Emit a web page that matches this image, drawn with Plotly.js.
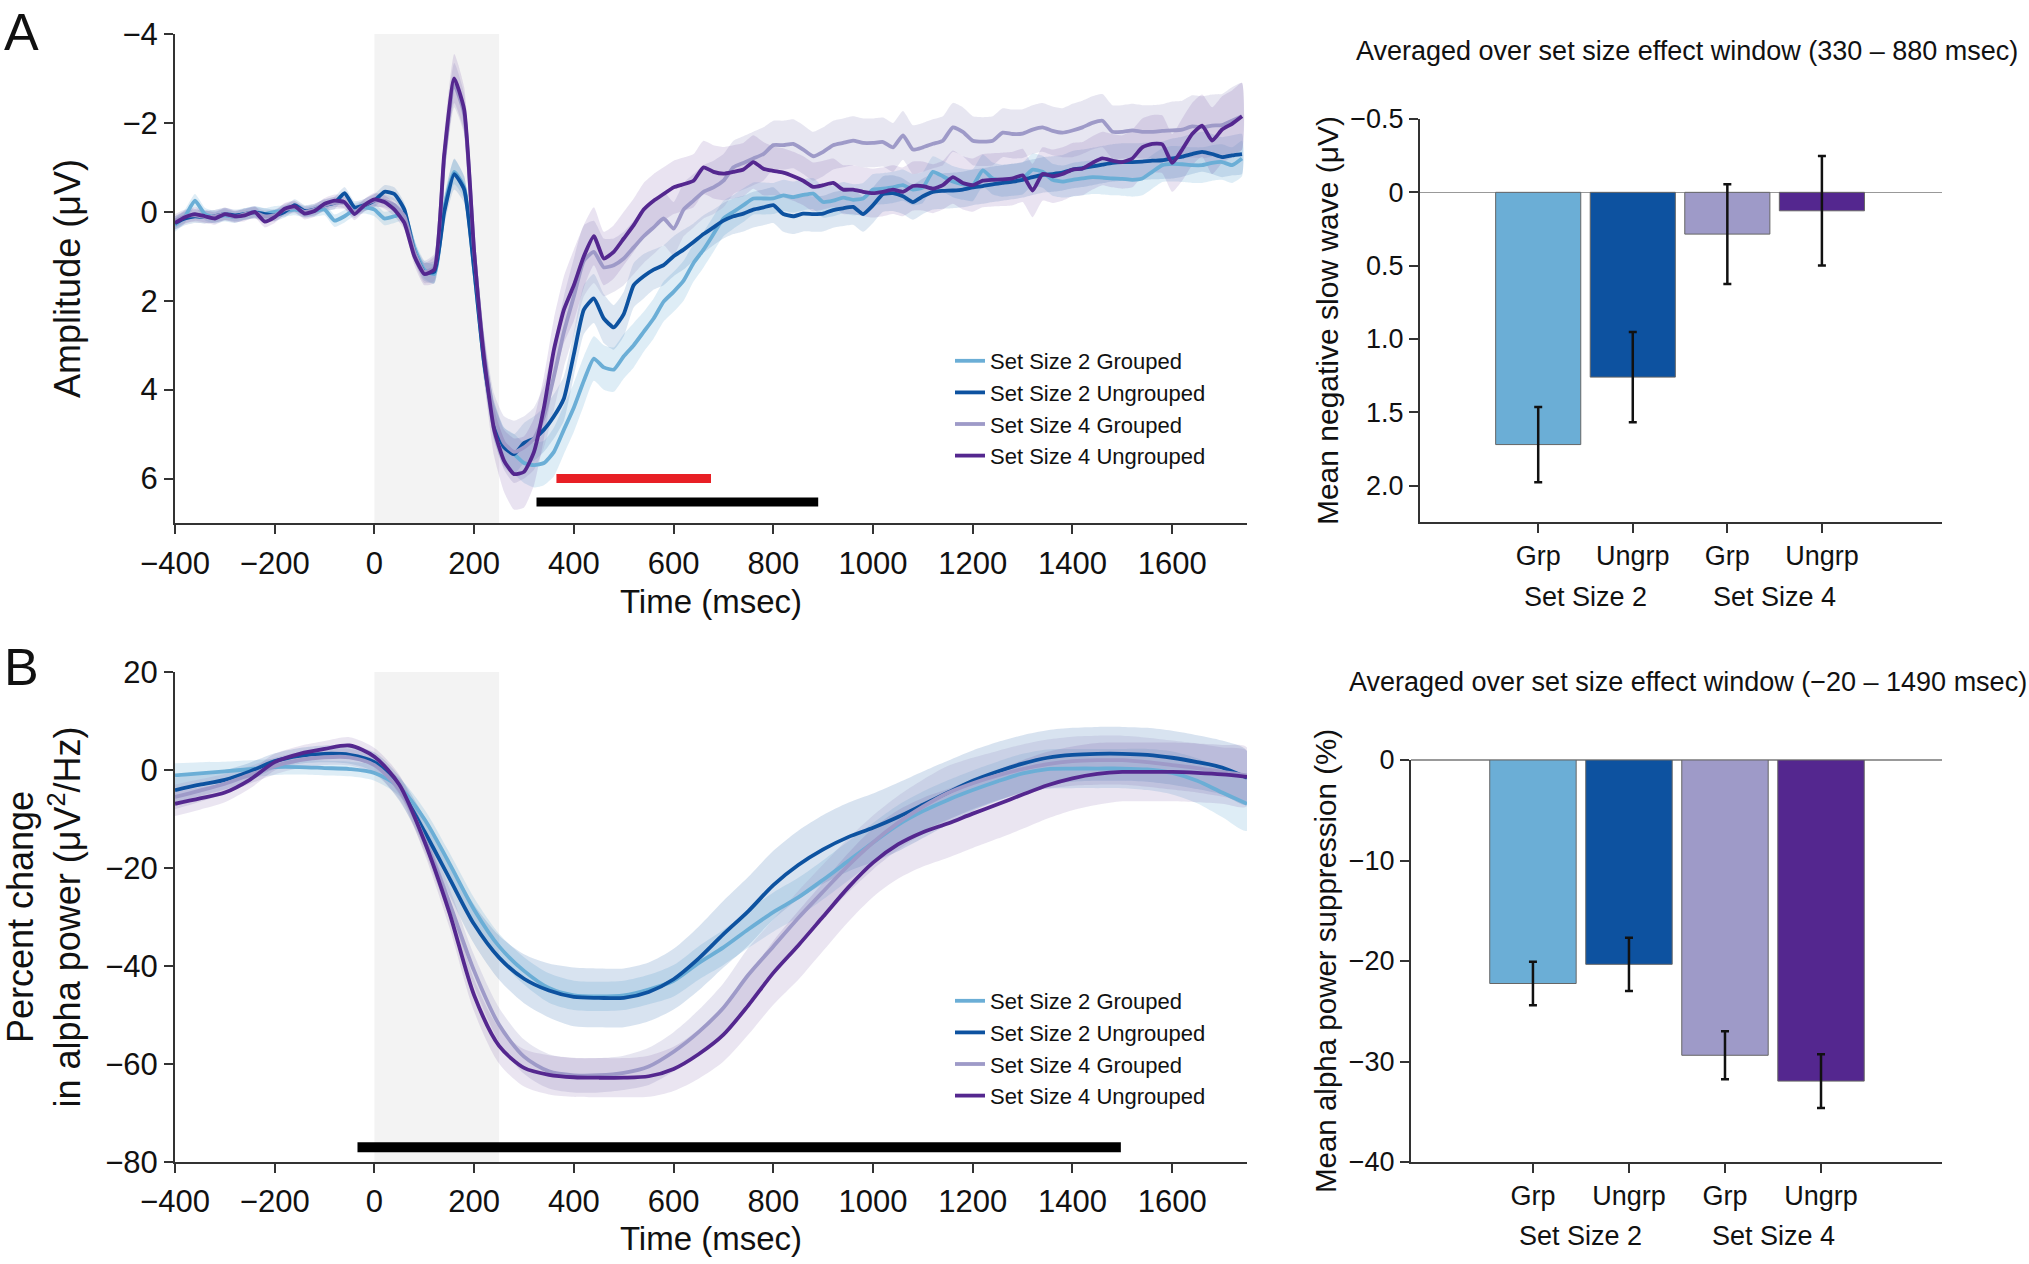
<!DOCTYPE html>
<html>
<head>
<meta charset="utf-8">
<script src="https://cdn.plot.ly/plotly-3.0.1.min.js"></script>
<style>html,body{margin:0;padding:0;background:#fff;}#chart{width:2029px;height:1264px;}</style>
</head>
<body>
<div id="chart"></div>
<script>
// ---------------- DATA ----------------
const seriesNames = ['Set Size 2 Grouped', 'Set Size 2 Ungrouped', 'Set Size 4 Grouped', 'Set Size 4 Ungrouped'];

// Panel A: ERP amplitude (µV), sampled every 20 ms
const timeA = [-400,-380,-360,-340,-320,-300,-280,-260,-240,-220,
  -200,-180,-160,-140,-120,-100,-80,-60,-40,-20,
  0,20,40,60,80,100,120,140,160,180,
  200,220,240,260,280,300,320,340,360,380,
  400,420,440,460,480,500,520,540,560,580,
  600,620,640,660,680,700,720,740,760,780,
  800,820,840,860,880,900,920,940,960,980,
  1000,1020,1040,1060,1080,1100,1120,1140,1160,1180,
  1200,1220,1240,1260,1280,1300,1320,1340,1360,1380,
  1400,1420,1440,1460,1480,1500,1520,1540,1560,1580,
  1600,1620,1640,1660,1680,1700,1720,1740];

const ampSS2G = [0.3,0.1,-0.25,0.05,0.12,0.08,0.12,0.05,0.0,0.05,
  0.0,-0.02,-0.05,0.0,-0.02,-0.05,0.2,0.1,-0.05,-0.1,
  -0.05,0.15,0.1,0.05,0.8,1.3,1.4,-0.1,-0.9,-0.55,
  1.3,3.4,4.7,5.25,5.45,5.65,5.7,5.65,5.4,4.9,
  4.4,3.8,3.3,3.5,3.55,3.25,3.0,2.7,2.4,2.02,
  1.8,1.55,1.15,0.85,0.5,0.15,0.0,-0.15,-0.3,-0.3,
  -0.3,-0.37,-0.33,-0.38,-0.41,-0.22,-0.25,-0.32,-0.27,-0.3,
  -0.5,-0.52,-0.55,-0.6,-0.5,-0.55,-0.9,-0.8,-0.68,-0.62,
  -0.6,-0.93,-0.75,-0.7,-0.72,-0.75,-0.95,-0.9,-0.72,-0.68,
  -0.72,-0.75,-0.78,-0.77,-0.75,-0.74,-0.72,-0.75,-0.9,-1.05,
  -1.08,-1.07,-1.05,-1.05,-1.1,-1.12,-1.05,-1.2];
const ampSS2U = [0.25,0.15,0.1,0.12,0.1,0.05,0.08,0.05,0.02,0.05,
  0.08,0.0,-0.15,-0.02,-0.05,-0.15,-0.2,-0.42,-0.1,-0.15,
  -0.25,-0.45,-0.4,-0.05,0.9,1.35,1.35,0.0,-0.85,-0.5,
  1.3,3.4,4.7,5.3,5.45,5.2,5.1,4.9,4.6,4.2,
  3.2,2.2,1.95,2.4,2.6,2.3,1.65,1.45,1.3,1.2,
  1.0,0.85,0.68,0.5,0.35,0.2,0.1,0.04,-0.05,-0.1,
  -0.15,0.05,0.1,0.04,0.05,0.04,-0.04,-0.08,-0.11,0.05,
  -0.15,-0.4,-0.42,-0.35,-0.22,-0.35,-0.45,-0.47,-0.48,-0.5,
  -0.55,-0.58,-0.62,-0.65,-0.68,-0.72,-0.78,-0.83,-0.85,-0.88,
  -0.95,-0.98,-1.02,-1.06,-1.1,-1.12,-1.12,-1.13,-1.15,-1.16,
  -1.2,-1.24,-1.3,-1.35,-1.3,-1.23,-1.27,-1.3];
const ampSS4G = [0.2,0.1,0.08,0.12,0.1,0.05,0.12,0.05,0.02,0.1,
  0.08,-0.05,-0.1,0.0,-0.05,-0.15,-0.2,-0.2,0.0,-0.15,
  -0.25,-0.25,-0.15,0.1,0.9,1.35,1.25,-1.2,-2.85,-2.2,
  0.9,3.2,4.6,5.2,5.4,5.3,5.1,4.6,3.7,2.7,
  1.9,1.1,0.9,1.25,1.2,1.05,0.8,0.55,0.35,0.15,
  0.38,-0.05,-0.25,-0.45,-0.55,-0.7,-1.0,-1.1,-1.2,-1.3,
  -1.5,-1.5,-1.53,-1.4,-1.25,-1.35,-1.5,-1.55,-1.6,-1.55,
  -1.55,-1.57,-1.45,-1.72,-1.4,-1.45,-1.53,-1.6,-1.9,-1.8,
  -1.6,-1.58,-1.6,-1.78,-1.75,-1.76,-1.85,-1.9,-1.82,-1.78,
  -1.83,-1.9,-2.0,-2.05,-1.8,-1.8,-1.83,-1.8,-1.8,-1.82,
  -1.83,-1.85,-1.92,-1.9,-1.94,-1.95,-2.05,-2.15];
const ampSS4U = [0.25,0.12,0.05,0.1,0.15,0.05,0.1,0.08,0.0,0.22,
  0.12,-0.07,-0.12,0.04,-0.02,-0.18,-0.25,-0.22,0.05,-0.15,
  -0.28,-0.22,-0.05,0.25,1.0,1.4,1.3,-1.3,-3.0,-2.3,
  0.9,3.3,4.9,5.6,5.9,5.85,5.4,4.4,3.1,2.2,
  1.65,1.0,0.55,1.05,0.9,0.6,0.3,-0.05,-0.25,-0.4,
  -0.55,-0.62,-0.7,-1.0,-0.9,-0.86,-0.9,-0.95,-1.12,-0.97,
  -0.92,-0.88,-0.8,-0.7,-0.56,-0.6,-0.65,-0.5,-0.5,-0.45,
  -0.42,-0.45,-0.5,-0.45,-0.58,-0.58,-0.52,-0.6,-0.78,-0.65,
  -0.6,-0.7,-0.72,-0.73,-0.75,-0.82,-0.48,-0.85,-0.8,-0.85,
  -0.95,-0.97,-1.1,-1.2,-1.15,-1.12,-1.2,-1.45,-1.53,-1.52,
  -1.1,-1.4,-1.75,-1.94,-1.6,-1.85,-1.98,-2.15];

const semAmpSS2G = [0.15,0.15,0.15,0.14,0.14,0.14,0.13,0.13,0.13,0.13,
  0.13,0.13,0.13,0.13,0.13,0.13,0.14,0.14,0.14,0.14,
  0.15,0.15,0.15,0.15,0.18,0.2,0.22,0.25,0.28,0.25,
  0.3,0.35,0.4,0.4,0.45,0.45,0.5,0.5,0.55,0.55,
  0.55,0.55,0.5,0.5,0.5,0.5,0.5,0.45,0.45,0.45,
  0.45,0.45,0.42,0.4,0.4,0.4,0.38,0.38,0.36,0.36,
  0.35,0.35,0.35,0.35,0.35,0.35,0.35,0.35,0.35,0.35,
  0.35,0.35,0.35,0.35,0.35,0.35,0.35,0.35,0.35,0.35,
  0.36,0.36,0.36,0.36,0.36,0.36,0.36,0.36,0.36,0.36,
  0.38,0.38,0.38,0.38,0.38,0.38,0.38,0.38,0.38,0.38,
  0.4,0.4,0.4,0.4,0.4,0.4,0.4,0.4];
const semAmpSS2U = [0.15,0.15,0.15,0.14,0.14,0.14,0.13,0.13,0.13,0.13,
  0.13,0.13,0.13,0.13,0.13,0.13,0.14,0.14,0.14,0.14,
  0.15,0.15,0.15,0.15,0.2,0.2,0.25,0.3,0.35,0.3,
  0.35,0.4,0.45,0.45,0.45,0.45,0.5,0.5,0.5,0.5,
  0.5,0.55,0.55,0.55,0.5,0.5,0.5,0.5,0.45,0.45,
  0.45,0.45,0.42,0.42,0.4,0.4,0.4,0.4,0.4,0.4,
  0.4,0.4,0.4,0.4,0.4,0.4,0.4,0.4,0.4,0.4,
  0.4,0.4,0.4,0.4,0.4,0.4,0.4,0.4,0.4,0.4,
  0.4,0.4,0.4,0.4,0.4,0.4,0.4,0.4,0.4,0.4,
  0.42,0.42,0.42,0.42,0.42,0.42,0.42,0.42,0.42,0.42,
  0.45,0.45,0.45,0.45,0.45,0.45,0.45,0.45];
const semAmpSS4G = [0.15,0.15,0.15,0.14,0.14,0.14,0.13,0.13,0.13,0.13,
  0.13,0.13,0.13,0.13,0.13,0.13,0.14,0.14,0.14,0.14,
  0.15,0.15,0.15,0.15,0.2,0.25,0.3,0.4,0.5,0.45,
  0.4,0.45,0.5,0.6,0.7,0.7,0.7,0.7,0.75,0.8,
  0.85,0.8,0.7,0.65,0.6,0.6,0.6,0.6,0.6,0.6,
  0.6,0.6,0.6,0.6,0.6,0.6,0.6,0.6,0.6,0.6,
  0.55,0.55,0.55,0.55,0.55,0.55,0.55,0.55,0.55,0.55,
  0.55,0.55,0.55,0.55,0.55,0.55,0.55,0.55,0.55,0.55,
  0.55,0.55,0.55,0.55,0.55,0.55,0.55,0.55,0.55,0.55,
  0.6,0.6,0.6,0.6,0.6,0.6,0.6,0.6,0.6,0.6,
  0.65,0.65,0.7,0.7,0.7,0.7,0.75,0.75];
const semAmpSS4U = [0.15,0.15,0.15,0.14,0.14,0.14,0.13,0.13,0.13,0.13,
  0.13,0.13,0.13,0.13,0.13,0.13,0.14,0.14,0.14,0.14,
  0.15,0.15,0.15,0.15,0.2,0.25,0.3,0.45,0.55,0.5,
  0.45,0.5,0.6,0.7,0.8,0.8,0.75,0.7,0.7,0.75,
  0.8,0.7,0.65,0.6,0.6,0.6,0.6,0.6,0.6,0.6,
  0.6,0.6,0.6,0.6,0.6,0.6,0.6,0.6,0.6,0.6,
  0.55,0.55,0.55,0.55,0.55,0.55,0.55,0.55,0.55,0.55,
  0.55,0.55,0.55,0.55,0.55,0.55,0.55,0.55,0.6,0.6,
  0.6,0.6,0.6,0.6,0.6,0.6,0.6,0.6,0.6,0.6,
  0.6,0.6,0.6,0.6,0.6,0.6,0.65,0.65,0.65,0.65,
  0.65,0.7,0.7,0.7,0.75,0.75,0.75,0.75];

// Panel B: alpha power percent change, sampled every 50 ms
const timeB = [-400,-350,-300,-250,-200,-150,-100,-50,0,50,
  100,150,200,250,300,350,400,450,500,550,
  600,650,700,750,800,850,900,950,1000,1050,
  1100,1150,1200,1250,1300,1350,1400,1450,1500,1550,
  1600,1650,1700,1750];
const alphaSS2G = [-1.1,-0.7,-0.3,0.2,0.6,0.6,0.4,0.2,-0.6,-3.5,
  -10,-19,-28.5,-36,-41,-44.5,-46,-46.2,-46,-44.8,
  -43,-39.4,-36.2,-32.5,-29,-26,-22.4,-18.6,-14.8,-11.2,
  -8.4,-6.1,-4.1,-2.3,-0.7,0.2,0.3,0.3,0.3,0.1,
  -0.6,-2.2,-4.6,-6.9];
const alphaSS2U = [-4.1,-3.0,-2.0,-0.3,1.8,2.9,3.3,3.1,1.6,-3.8,
  -12.5,-22,-31.5,-38.3,-42.6,-45,-46.3,-46.5,-46.5,-45.3,
  -42.7,-38.5,-33.5,-28.8,-23.5,-19.4,-16.2,-13.7,-11.8,-9.6,
  -7.1,-4.6,-2.2,-0.3,1.3,2.5,3.1,3.3,3.3,3.1,
  2.5,1.6,0.5,-1.6];
const alphaSS4G = [-5.5,-4.2,-2.8,-1.0,0.8,2.0,2.6,2.6,1.0,-4,
  -14,-27,-41,-52,-58.5,-61.5,-62.3,-62.3,-61.8,-60.5,
  -57.5,-53.5,-48.5,-41.8,-36,-30.2,-24.8,-19.5,-14.8,-10.8,
  -7.5,-4.7,-2.7,-1.1,0.2,1.2,1.8,2.0,2.0,1.6,
  1.0,0.4,-0.4,-1.1];
const alphaSS4U = [-6.9,-5.8,-4.6,-2.0,1.6,3.3,4.3,5.0,2.7,-3.0,
  -14.5,-29,-46,-56.3,-60.8,-62.2,-62.7,-62.8,-62.8,-62.5,
  -61,-58,-54,-48,-41.4,-35.8,-29.9,-24,-18.9,-15.2,
  -12.7,-10.9,-8.9,-7,-5,-3.1,-1.7,-0.8,-0.4,-0.4,
  -0.4,-0.6,-0.9,-1.4];
const semAlphaSS2G = [2.5,2.3,2,1.8,1.6,1.5,1.5,1.5,1.6,1.8,
  2,2.2,2.4,2.6,2.8,3,3,3,3,3,
  3.2,3.4,3.6,3.8,4,4,4,4,4,4,
  4,4,4,4,4,4,4,4,4,4.2,
  4.4,4.6,5,5.5];
const semAlphaSS2U = [2.5,2.3,2,1.8,1.6,1.6,1.7,1.8,2,2.5,
  3,3.5,4,4.5,5,5.5,6,6,6,6,
  6.2,6.5,6.8,7,7,7,7,7,7,7,
  6.8,6.5,6.2,6,5.8,5.6,5.5,5.5,5.5,5.5,
  5.5,5.5,5.5,5.5];
const semAlphaSS4G = [2.5,2.3,2,1.8,1.7,1.6,1.6,1.7,1.8,2,
  2.5,3,3.2,3.5,3.5,3.5,3.5,3.5,3.5,3.8,
  4,4.5,5,5.5,5.5,5.5,5.5,5.5,5.5,5.5,
  5.5,5.5,5.2,5,5,5,5,5,5,5,
  5,5,5,5];
const semAlphaSS4U = [2.5,2.3,2,1.8,1.7,1.6,1.6,1.7,1.8,2,
  2.5,3,3.3,3.6,3.8,4,4,4,4,4.2,
  4.5,5,5.5,6,6.5,7,7,7,7,7,
  7,7,7,7,7,6.8,6.5,6.3,6,6,
  6,6,6,6];

// Significance windows (ms) and stimulus shading window (ms)
const stimWindow = [0, 250];
const sigWindowA_red = [365, 675];
const sigWindowA_black = [325, 890];
const sigWindowB_black = [-34, 1497];

// Bar panels
const barCategories = ['Grp', 'Ungrp', 'Grp', 'Ungrp'];
const setSizeGroups = ['Set Size 2', 'Set Size 4'];
const slowWaveMean = [1.72, 1.26, 0.285, 0.126];
const slowWaveSem = [0.257, 0.307, 0.34, 0.373];
const alphaMean = [-22.24, -20.33, -29.38, -31.95];
const alphaSem = [2.16, 2.65, 2.39, 2.67];

const xTicksTime = [-400,-200,0,200,400,600,800,1000,1200,1400,1600];
const yTicksA = [-4,-2,0,2,4,6];
const yTicksB = [-80,-60,-40,-20,0,20];
const yTicksBarA = [-0.5,0,0.5,1.0,1.5,2.0];
const yTicksBarALabels = ['\u22120.5','0','0.5','1.0','1.5','2.0'];
const yTicksBarB = [-40,-30,-20,-10,0];

// ---------------- STYLE ----------------
const FONT = 'Liberation Sans, Arial, Helvetica, sans-serif';
const TXT = '#111';
const lineColors = ['#6baed6', '#0d52a0', '#9e9ac8', '#54278f'];
const bandColorsA = ['rgba(107,174,214,0.22)', 'rgba(13,82,160,0.14)', 'rgba(158,154,200,0.25)', 'rgba(84,39,143,0.13)'];
const bandColorsB = ['rgba(107,174,214,0.22)', 'rgba(13,82,160,0.16)', 'rgba(158,154,200,0.25)', 'rgba(84,39,143,0.12)'];
const minus = v => String(v).replace('-', '\u2212');

function band(t, m, s, color, xa, ya, smooth) {
  const up = m.map((v, i) => v + s[i]);
  const lo = m.map((v, i) => v - s[i]);
  return {
    x: t.concat(t.slice().reverse()),
    y: up.concat(lo.slice().reverse()),
    xaxis: xa, yaxis: ya, type: 'scatter', mode: 'lines',
    fill: 'toself', fillcolor: color, line: {width: 0, shape: 'spline', smoothing: smooth},
    hoverinfo: 'skip', showlegend: false
  };
}

const ampSeries = [ampSS2G, ampSS2U, ampSS4G, ampSS4U];
const ampSems = [semAmpSS2G, semAmpSS2U, semAmpSS4G, semAmpSS4U];
const alphaSeries = [alphaSS2G, alphaSS2U, alphaSS4G, alphaSS4U];
const alphaSems = [semAlphaSS2G, semAlphaSS2U, semAlphaSS4G, semAlphaSS4U];

const traces = [];
// bands
for (let i = 0; i < 4; i++) traces.push(band(timeA, ampSeries[i], ampSems[i], bandColorsA[i], 'x', 'y', 0.5));
for (let i = 0; i < 4; i++) traces.push(band(timeB, alphaSeries[i], alphaSems[i], bandColorsB[i], 'x3', 'y3', 0.8));
// lines
for (let i = 0; i < 4; i++) traces.push({
  x: timeA, y: ampSeries[i], xaxis: 'x', yaxis: 'y', type: 'scatter', mode: 'lines',
  name: seriesNames[i], line: {color: lineColors[i], width: 3.8, shape: 'spline', smoothing: 0.5}, legend: 'legend'
});
for (let i = 0; i < 4; i++) traces.push({
  x: timeB, y: alphaSeries[i], xaxis: 'x3', yaxis: 'y3', type: 'scatter', mode: 'lines',
  name: seriesNames[i], line: {color: lineColors[i], width: 3.8, shape: 'spline', smoothing: 0.8}, legend: 'legend2'
});
// significance bars
const sigLevelRedA = 6.0, sigLevelBlackA = 6.53, sigLevelBlackB = -77;
traces.push({x: sigWindowA_red, y: [sigLevelRedA, sigLevelRedA], xaxis: 'x', yaxis: 'y', mode: 'lines', line: {color: '#e81f25', width: 9}, showlegend: false, hoverinfo: 'skip'});
traces.push({x: sigWindowA_black, y: [sigLevelBlackA, sigLevelBlackA], xaxis: 'x', yaxis: 'y', mode: 'lines', line: {color: '#000', width: 9}, showlegend: false, hoverinfo: 'skip'});
traces.push({x: sigWindowB_black, y: [sigLevelBlackB, sigLevelBlackB], xaxis: 'x3', yaxis: 'y3', mode: 'lines', line: {color: '#000', width: 10}, showlegend: false, hoverinfo: 'skip'});

// bar charts
const barPos = barCategories.map((c, i) => i + 1);
traces.push({
  x: barPos, y: slowWaveMean, xaxis: 'x2', yaxis: 'y2', type: 'bar', width: 0.9,
  marker: {color: lineColors, line: {color: '#666', width: 1}},
  error_y: {type: 'data', array: slowWaveSem, visible: true, color: '#111', thickness: 2.5, width: 4},
  showlegend: false, hoverinfo: 'skip'
});
traces.push({
  x: barPos, y: alphaMean, xaxis: 'x4', yaxis: 'y4', type: 'bar', width: 0.9,
  marker: {color: lineColors, line: {color: '#666', width: 1}},
  error_y: {type: 'data', array: alphaSem, visible: true, color: '#111', thickness: 2.5, width: 4},
  showlegend: false, hoverinfo: 'skip'
});

// ---------------- LAYOUT ----------------
const W = 2029, H = 1264;
const px = v => v / W;
const py = v => 1 - v / H;

const axBase = {
  showline: true, linecolor: '#333', linewidth: 2, ticks: 'outside', ticklen: 9, tickwidth: 2,
  tickcolor: '#333', showgrid: false, zeroline: false, fixedrange: true
};
const leftTick = {family: FONT, size: 31, color: TXT};
const rightTick = {family: FONT, size: 27, color: TXT};

const layout = {
  width: W, height: H, margin: {l: 0, r: 0, t: 0, b: 0},
  paper_bgcolor: '#fff', plot_bgcolor: 'rgba(0,0,0,0)',
  font: {family: FONT, color: TXT},
  xaxis: Object.assign({}, axBase, {
    domain: [px(175), px(1247)], anchor: 'y', range: [-400, 1750],
    tickvals: xTicksTime, ticktext: xTicksTime.map(minus), tickfont: leftTick, ticklabelstandoff: 3,
    title: {text: 'Time (msec)', font: {family: FONT, size: 33, color: TXT}, standoff: 10}
  }),
  yaxis: Object.assign({}, axBase, {
    domain: [py(523), py(34)], anchor: 'x', range: [7, -4],
    tickvals: yTicksA, ticktext: yTicksA.map(minus), tickfont: leftTick,
    title: {text: 'Amplitude (\u03bcV)', font: {family: FONT, size: 36, color: TXT}, standoff: 31}
  }),
  xaxis3: Object.assign({}, axBase, {
    domain: [px(175), px(1247)], anchor: 'y3', range: [-400, 1750],
    tickvals: xTicksTime, ticktext: xTicksTime.map(minus), tickfont: leftTick, ticklabelstandoff: 2,
    title: {text: 'Time (msec)', font: {family: FONT, size: 33, color: TXT}, standoff: 9}
  }),
  yaxis3: Object.assign({}, axBase, {
    domain: [py(1162), py(672)], anchor: 'x3', range: [-80, 20],
    tickvals: yTicksB, ticktext: yTicksB.map(minus), tickfont: leftTick,
    title: {text: 'Percent change<br>in alpha power (\u03bcV<sup>2</sup>/Hz)', font: {family: FONT, size: 36, color: TXT}, standoff: 16}
  }),
  xaxis2: Object.assign({}, axBase, {
    domain: [px(1420), px(1942)], anchor: 'y2', range: [-0.25, 5.27],
    tickvals: barPos, ticktext: barCategories, tickfont: rightTick
  }),
  yaxis2: Object.assign({}, axBase, {
    domain: [py(522), py(119)], anchor: 'x2', range: [2.248, -0.5],
    tickvals: yTicksBarA, ticktext: yTicksBarALabels, tickfont: rightTick,
    zeroline: true, zerolinecolor: '#999', zerolinewidth: 1.5,
    title: {text: 'Mean negative slow wave (\u03bcV)', font: {family: FONT, size: 30, color: TXT}, standoff: 3}
  }),
  xaxis4: Object.assign({}, axBase, {
    domain: [px(1411), px(1942)], anchor: 'y4', range: [-0.27, 5.26],
    tickvals: barPos, ticktext: barCategories, tickfont: rightTick
  }),
  yaxis4: Object.assign({}, axBase, {
    domain: [py(1162), py(760)], anchor: 'x4', range: [-40, 0],
    tickvals: yTicksBarB, ticktext: yTicksBarB.map(minus), tickfont: rightTick,
    zeroline: true, zerolinecolor: '#999', zerolinewidth: 1.5,
    title: {text: 'Mean alpha power suppression (%)', font: {family: FONT, size: 29.5, color: TXT}, standoff: 3}
  }),
  legend: {
    x: px(950), y: py(340), xanchor: 'left', yanchor: 'top', bgcolor: 'rgba(0,0,0,0)',
    font: {family: FONT, size: 22, color: TXT}, tracegroupgap: 0, itemwidth: 30
  },
  legend2: {
    x: px(950), y: py(980), xanchor: 'left', yanchor: 'top', bgcolor: 'rgba(0,0,0,0)',
    font: {family: FONT, size: 22, color: TXT}, tracegroupgap: 0, itemwidth: 30
  },
  shapes: [
    {type: 'rect', xref: 'x', yref: 'y domain', x0: stimWindow[0], x1: stimWindow[1], y0: 0, y1: 1, fillcolor: '#f3f3f3', line: {width: 0}, layer: 'below'},
    {type: 'rect', xref: 'x3', yref: 'y3 domain', x0: stimWindow[0], x1: stimWindow[1], y0: 0, y1: 1, fillcolor: '#f3f3f3', line: {width: 0}, layer: 'below'}
  ],
  annotations: [
    {text: 'A', xref: 'paper', yref: 'paper', x: px(2), y: py(1), xanchor: 'left', yanchor: 'top', showarrow: false, font: {family: FONT, size: 52, color: TXT}},
    {text: 'B', xref: 'paper', yref: 'paper', x: px(2), y: py(636), xanchor: 'left', yanchor: 'top', showarrow: false, font: {family: FONT, size: 52, color: TXT}},
    {text: 'Averaged over set size effect window (330 \u2013 880 msec)', xref: 'paper', yref: 'paper', x: px(1687), y: py(51), xanchor: 'center', yanchor: 'middle', showarrow: false, font: {family: FONT, size: 27, color: TXT}},
    {text: 'Averaged over set size effect window (\u221220 \u2013 1490 msec)', xref: 'paper', yref: 'paper', x: px(1688), y: py(682), xanchor: 'center', yanchor: 'middle', showarrow: false, font: {family: FONT, size: 27, color: TXT}},
    {text: setSizeGroups[0], xref: 'x2', yref: 'paper', x: (barPos[0] + barPos[1]) / 2, y: py(597), xanchor: 'center', yanchor: 'middle', showarrow: false, font: {family: FONT, size: 27, color: TXT}},
    {text: setSizeGroups[1], xref: 'x2', yref: 'paper', x: (barPos[2] + barPos[3]) / 2, y: py(597), xanchor: 'center', yanchor: 'middle', showarrow: false, font: {family: FONT, size: 27, color: TXT}},
    {text: setSizeGroups[0], xref: 'x4', yref: 'paper', x: (barPos[0] + barPos[1]) / 2, y: py(1236), xanchor: 'center', yanchor: 'middle', showarrow: false, font: {family: FONT, size: 27, color: TXT}},
    {text: setSizeGroups[1], xref: 'x4', yref: 'paper', x: (barPos[2] + barPos[3]) / 2, y: py(1236), xanchor: 'center', yanchor: 'middle', showarrow: false, font: {family: FONT, size: 27, color: TXT}}
  ]
};

Plotly.newPlot('chart', traces, layout, {staticPlot: true, displayModeBar: false});
</script>
</body>
</html>
